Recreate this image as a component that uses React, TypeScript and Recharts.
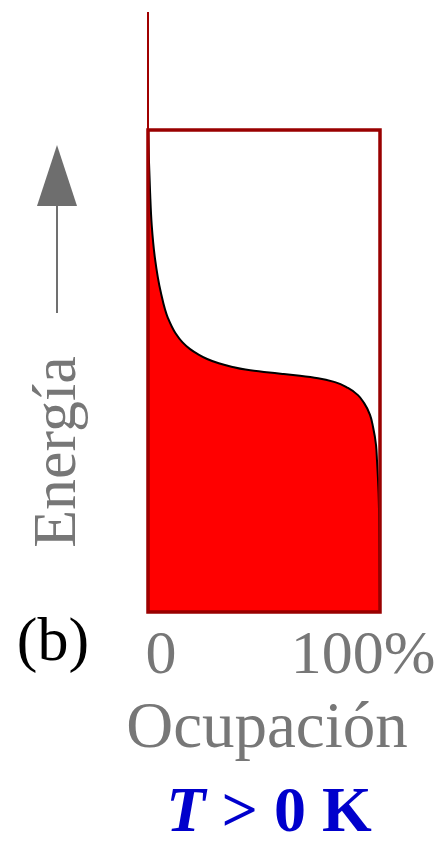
import React from 'react';
import {
  ComposedChart,
  Area,
  XAxis,
  YAxis,
  ReferenceArea,
} from 'recharts';

// Energy (0 = bottom of the box, 100 = top of the box) and occupation in %
const energy = [0, 12.9, 24.7, 31.5, 34.6, 38.4, 40.9, 43.4, 45.0, 46.5, 47.7, 48.5, 49.0, 49.4, 49.8, 50.3, 50.9, 51.6, 52.5, 53.5, 54.6, 56.0, 57.9, 61.0, 66.4, 73.4, 80.3, 87.1, 93.8, 100];
const occupation = [100, 99.8, 99.4, 98.7, 98.3, 97.0, 95.7, 93.1, 90.5, 86.2, 80.6, 73.3, 65.5, 58.0, 50.0, 42.0, 36.0, 30.5, 25.5, 21.5, 18.0, 14.8, 11.8, 8.6, 5.5, 3.0, 1.6, 0.9, 0.4, 0];
const occTicks = [0, 100];
const occTickLabels = ['0', '100%'];

const rows = energy.map((e, i) => ({ energy: e, occ: occupation[i] }));

const SERIF = "'Liberation Serif', 'Times New Roman', serif";
const GREY = '#777777';

// tick text is set a bit inside the box edges, like in the original figure
const OccTick = (props: any) => {
  const { x, y, payload } = props;
  const idx = occTicks.indexOf(payload.value);
  const shift = idx === 0 ? 13 : -17;
  return (
    <text x={x + shift} y={y + 53} textAnchor="middle" fontFamily={SERIF} fontSize={62} fill={GREY}>
      {occTickLabels[idx]}
    </text>
  );
};

const BottomLabels = (props: any) => {
  const { x, y, width } = props.viewBox;
  const cx = x + width / 2;
  return (
    <g>
      <text x={cx + 3} y={y + 135} textAnchor="middle" fontFamily={SERIF} fontSize={65} fill={GREY}>
        Ocupación
      </text>
      <text x={cx + 5} y={y + 219} textAnchor="middle" fontFamily={SERIF} fontSize={64} fontWeight="bold" fill="#0000cc">
        <tspan fontStyle="italic">T</tspan> &gt; 0 K
      </text>
    </g>
  );
};

const LeftLabels = (props: any) => {
  const { y, height } = props.viewBox;
  const bottom = y + height;
  const ax = 57;
  return (
    <g>
      <text
        x={75}
        y={bottom - 160}
        transform={`rotate(-90 75 ${bottom - 160})`}
        textAnchor="middle"
        fontFamily={SERIF}
        fontSize={62}
        fill={GREY}
      >
        Energía
      </text>
      <line x1={ax} y1={bottom - 299} x2={ax} y2={bottom - 410} stroke="#707070" strokeWidth={2} />
      <polygon points={`${ax},${bottom - 467} ${ax - 20},${bottom - 406} ${ax + 20},${bottom - 406}`} fill="#6e6e6e" />
      <text x={53} y={bottom + 48} textAnchor="middle" fontFamily={SERIF} fontSize={62} fill="#000000">
        (b)
      </text>
    </g>
  );
};

export default function App() {
  return (
    <div style={{ position: 'absolute', left: 0, top: 0, width: 442, height: 842, background: '#ffffff' }}>
      <ComposedChart
        width={442}
        height={842}
        data={rows}
        layout="vertical"
        margin={{ top: 12, right: 62, bottom: 0, left: 0 }}
      >
        <XAxis
          type="number"
          dataKey="occ"
          domain={[0, 100]}
          ticks={occTicks}
          height={230}
          axisLine={false}
          tickLine={false}
          tick={<OccTick />}
          label={<BottomLabels />}
          allowDataOverflow
        />
        <YAxis
          type="number"
          dataKey="energy"
          domain={[0, 124.5]}
          reversed
          width={148}
          tick={false}
          tickLine={false}
          axisLine={{ stroke: '#a00000', strokeWidth: 2 }}
          label={<LeftLabels />}
          allowDataOverflow
        />
        <Area
          type="monotone"
          dataKey="occ"
          stroke="#000000"
          strokeWidth={2}
          fill="#ff0000"
          fillOpacity={1}
          isAnimationActive={false}
        />
        <ReferenceArea x1={0} x2={100} y1={0} y2={100} fill="none" stroke="#990000" strokeWidth={3.5} />
      </ComposedChart>
    </div>
  );
}
